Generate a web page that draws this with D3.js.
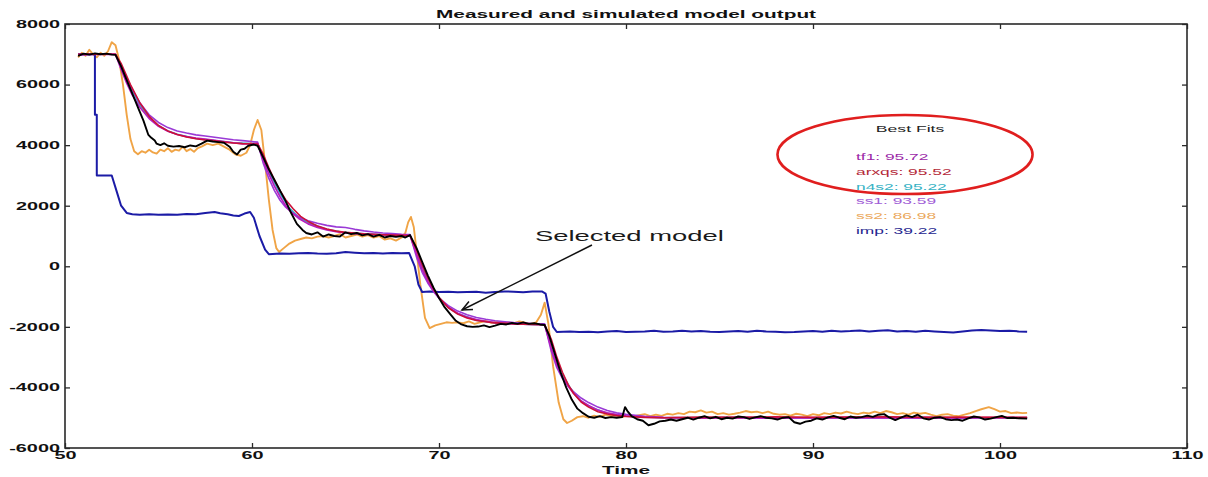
<!DOCTYPE html>
<html>
<head>
<meta charset="utf-8">
<script src="https://cdn.jsdelivr.net/npm/d3@7"></script>
<style>
  html, body { margin: 0; padding: 0; background: #fff; }
  svg { display: block; }
  text { font-family: "Liberation Sans", Arial, Helvetica, sans-serif; }
</style>
</head>
<body>
<svg id="chart" width="1208" height="477"></svg>
<script>
// ---------------- DATA ----------------
const titleText = "Measured and simulated model output";
const xLabel = "Time";
const xTicks = [50, 60, 70, 80, 90, 100, 110];
const yTicks = [-6000, -4000, -2000, 0, 2000, 4000, 6000, 8000];
const legendTitle = "Best Fits";
const fitNames = ["tf1", "arxqs", "n4s2", "ss1", "ss2", "imp"];
const fitValues = ["95.72", "95.52", "95.22", "93.59", "86.98", "39.22"];
const annotationText = "Selected model";

// measured output [time, value]
const measured = [
 [50.7,6950],[51.0,7020],[51.3,6990],[51.6,7030],[51.9,7000],[52.2,7020],[52.5,6990],[52.7,6980],
 [53.0,6600],[53.3,6150],[53.6,5700],[53.9,5250],[54.2,4800],[54.45,4350],[54.6,4250],[54.8,4150],[54.9,4050],
 [55.1,4000],[55.3,4060],[55.5,3980],[55.8,3950],[56.1,3970],[56.4,3930],[56.7,3990],[57.0,3960],[57.3,4050],
 [57.6,4150],[57.9,4120],[58.2,4100],[58.5,4080],[58.8,3950],[59.0,3780],[59.2,3690],[59.4,3850],[59.6,3880],
 [59.8,3980],[60.1,4020],[60.3,3980],
 [60.6,3600],[60.9,3200],[61.2,2850],[61.5,2500],[61.8,2150],[62.1,1750],[62.4,1400],[62.7,1200],[62.9,1100],
 [63.2,1050],[63.5,1120],[63.8,980],[64.1,1050],[64.4,1000],[64.7,980],[65.0,1120],[65.3,1060],[65.6,1100],
 [65.9,1020],[66.2,1060],[66.5,980],[66.8,1040],[67.1,950],[67.4,1000],[67.7,970],[68.0,1000],[68.2,950],[68.45,1030],
 [68.8,600],[69.1,150],[69.4,-300],[69.7,-700],[70.0,-1050],[70.3,-1350],[70.6,-1580],[70.9,-1800],[71.2,-1920],
 [71.5,-1980],[71.8,-2000],[72.1,-1990],[72.4,-1950],[72.7,-2010],[73.0,-1960],[73.3,-1900],[73.6,-1920],
 [73.9,-1870],[74.2,-1900],[74.5,-1850],[74.8,-1900],[75.1,-1880],[75.4,-1920],[75.65,-1940],
 [75.9,-2300],[76.2,-2900],[76.5,-3500],[76.8,-4000],[77.1,-4400],[77.4,-4700],[77.7,-4850],[78.0,-4970],
 [78.3,-5000],[78.6,-4950],[78.9,-5010],[79.2,-4980],[79.5,-5000],[79.8,-4980],[79.95,-4650],[80.1,-4800],
 [80.3,-4950],[80.6,-5050],[80.9,-5100],[81.2,-5250],[81.5,-5200],[81.8,-5120],[82.1,-5100],[82.4,-5060],
 [82.7,-5100],[83.0,-5050],[83.3,-5000],[83.6,-5060],[83.9,-5000],[84.2,-4950],[84.5,-5020],[84.8,-4970],
 [85.1,-5050],[85.4,-5000],[85.7,-5030],[86.0,-4960],[86.3,-4980],[86.6,-5040],[86.9,-4990],[87.2,-4950],
 [87.5,-5000],[87.8,-5020],[88.1,-5060],[88.4,-5000],[88.7,-4980],[89.0,-5150],[89.3,-5200],[89.6,-5130],
 [89.9,-5100],[90.2,-5020],[90.5,-5060],[90.8,-4990],[91.1,-4940],[91.4,-5000],[91.7,-5050],[92.0,-4960],
 [92.3,-5000],[92.6,-4980],[92.9,-4930],[93.2,-4970],[93.5,-4900],[93.8,-4880],[94.1,-5000],[94.4,-5080],
 [94.7,-5000],[95.0,-4920],[95.3,-4980],[95.6,-4900],[95.9,-5020],[96.2,-5060],[96.5,-5000],[96.8,-4980],
 [97.1,-5050],[97.4,-5080],[97.7,-5060],[98.0,-5100],[98.3,-5020],[98.6,-4960],[98.9,-4990],[99.2,-5060],
 [99.5,-5030],[99.8,-4980],[100.1,-4940],[100.4,-5010],[100.7,-5000],[101.0,-5020],[101.45,-5030]
];

const tf1 = [
 [50.7,6980],[51.5,7000],[52.7,7000],[53.0,6500],[53.3,6050],[53.6,5650],[54.0,5250],[54.5,4880],[55.0,4620],
 [55.5,4460],[56.0,4350],[56.5,4280],[57.0,4230],[57.5,4200],[58.0,4160],[58.5,4120],[59.0,4080],[59.5,4040],
 [60.0,4050],[60.3,4060],
 [60.6,3500],[60.9,3050],[61.2,2650],[61.5,2300],[61.8,2000],[62.1,1780],[62.5,1580],[63.0,1400],[63.5,1280],
 [64.0,1200],[64.5,1140],[65.0,1100],[65.5,1080],[66.0,1060],[67.0,1040],[68.0,1020],[68.45,1020],
 [68.8,400],[69.1,-100],[69.4,-500],[69.7,-800],[70.0,-1050],[70.5,-1350],[71.0,-1550],[71.5,-1680],[72.0,-1760],
 [72.5,-1820],[73.0,-1860],[74.0,-1900],[75.0,-1920],[75.65,-1930],
 [76.0,-2700],[76.3,-3250],[76.6,-3650],[76.9,-3950],[77.2,-4200],[77.6,-4450],[78.0,-4600],[78.5,-4750],
 [79.0,-4840],[79.5,-4900],[80.0,-4940],[81.0,-4980],[82.0,-5000],[84.0,-5010],[86.0,-4990],[88.0,-5010],
 [90.0,-5000],[92.0,-4990],[94.0,-5010],[96.0,-4990],[98.0,-5010],[100.0,-4990],[101.45,-5000]
];

const arxqs = [
 [50.7,7000],[51.5,7010],[52.7,7000],[53.0,6700],[53.5,6000],[54.0,5400],[54.5,4950],[55.0,4650],[55.5,4470],
 [56.0,4350],[56.5,4270],[57.0,4210],[57.5,4170],[58.0,4140],[58.5,4100],[59.0,4070],[59.5,4050],[60.0,4040],[60.3,4040],
 [60.6,3700],[60.9,3250],[61.2,2850],[61.5,2500],[61.8,2200],[62.2,1900],[62.6,1650],[63.0,1480],[63.5,1330],
 [64.0,1230],[64.5,1160],[65.0,1120],[66.0,1070],[67.0,1040],[68.0,1020],[68.45,1010],
 [68.8,550],[69.1,50],[69.4,-380],[69.7,-740],[70.0,-1020],[70.5,-1370],[71.0,-1580],[71.5,-1710],[72.0,-1790],
 [73.0,-1870],[74.0,-1900],[75.0,-1920],[75.65,-1930],
 [76.0,-2400],[76.3,-3000],[76.6,-3500],[76.9,-3900],[77.2,-4200],[77.6,-4480],[78.0,-4650],[78.5,-4800],
 [79.0,-4880],[79.5,-4930],[80.0,-4960],[81.0,-4990],[82.0,-5000],[84.0,-4980],[86.0,-4990],[88.0,-4970],
 [90.0,-4990],[92.0,-4980],[94.0,-4970],[96.0,-4990],[98.0,-4980],[100.0,-4990],[101.45,-4990]
];

const n4s2 = [
 [50.7,6990],[51.5,7000],[52.7,7000],[53.0,6600],[53.5,5900],[54.0,5330],[54.5,4920],[55.0,4640],[55.5,4470],
 [56.0,4360],[57.0,4220],[58.0,4150],[59.0,4080],[60.0,4050],[60.3,4050],
 [60.6,3600],[61.0,3000],[61.5,2400],[62.0,1920],[62.5,1620],[63.0,1440],[64.0,1220],[65.0,1110],[66.0,1070],
 [67.0,1040],[68.0,1020],[68.45,1020],
 [68.8,480],[69.2,-150],[69.6,-650],[70.0,-1030],[70.5,-1360],[71.0,-1560],[72.0,-1780],[73.0,-1870],
 [74.0,-1900],[75.0,-1920],[75.65,-1930],
 [76.0,-2550],[76.5,-3450],[77.0,-4000],[77.5,-4400],[78.0,-4620],[79.0,-4860],[80.0,-4950],[82.0,-5000],
 [86.0,-4990],[90.0,-5000],[94.0,-4990],[98.0,-5000],[101.45,-5000]
];

const ss1 = [
 [50.7,7000],[51.5,7000],[52.7,7000],[53.0,6600],[53.5,5950],[54.0,5400],[54.5,5000],[55.0,4750],[55.5,4580],
 [56.0,4470],[56.5,4400],[57.0,4340],[57.5,4300],[58.0,4260],[58.5,4220],[59.0,4180],[59.5,4150],[60.0,4120],[60.3,4100],
 [60.6,3400],[60.9,2900],[61.2,2500],[61.5,2180],[61.8,1950],[62.2,1750],[62.6,1600],[63.0,1500],[63.5,1420],
 [64.0,1350],[64.5,1300],[65.0,1280],[65.5,1220],[66.0,1170],[66.5,1130],[67.0,1100],[67.5,1080],[68.0,1060],[68.45,1050],
 [68.8,300],[69.1,-200],[69.4,-550],[69.7,-830],[70.0,-1050],[70.5,-1300],[71.0,-1480],[71.5,-1600],[72.0,-1690],
 [72.5,-1750],[73.0,-1800],[74.0,-1860],[75.0,-1890],[75.65,-1900],
 [76.0,-2800],[76.3,-3350],[76.6,-3700],[76.9,-3950],[77.2,-4150],[77.6,-4350],[78.0,-4500],[78.5,-4650],
 [79.0,-4760],[79.5,-4840],[80.0,-4890],[81.0,-4950],[82.0,-4990],[84.0,-5010],[86.0,-5000],[88.0,-5020],
 [90.0,-5000],[92.0,-5010],[94.0,-5000],[96.0,-5020],[98.0,-5010],[100.0,-5000],[101.45,-5010]
];

const ss2 = [
 [50.7,6900],[50.9,7050],[51.1,6950],[51.3,7150],[51.5,7000],[51.7,6900],[51.9,7050],[52.1,6950],[52.3,7100],
 [52.5,7400],[52.7,7300],[52.9,6800],[53.1,6000],[53.3,5000],[53.5,4200],[53.7,3800],[53.9,3700],[54.1,3800],
 [54.3,3750],[54.5,3850],[54.7,3760],[54.9,3720],[55.1,3850],[55.3,3800],[55.5,3900],[55.7,3780],[55.9,3850],
 [56.1,3820],[56.3,3950],[56.5,3800],[56.7,3870],[56.9,3780],[57.1,3900],[57.3,3950],[57.6,4050],[57.9,4000],
 [58.2,4050],[58.5,3950],[58.8,3850],[59.1,3700],[59.4,3650],[59.7,3750],[59.9,4000],[60.1,4500],[60.3,4830],
 [60.5,4500],[60.7,3400],[60.9,2200],[61.1,1200],[61.3,600],[61.45,470],[61.7,600],[62.0,750],[62.3,850],
 [62.6,900],[62.9,950],[63.2,920],[63.5,980],[63.8,1000],[64.1,950],[64.4,1000],[64.7,1060],[65.0,950],
 [65.3,1000],[65.6,1050],[65.9,980],[66.2,1030],[66.5,950],[66.8,1000],[67.1,880],[67.4,920],[67.7,850],
 [68.0,950],[68.2,1100],[68.35,1450],[68.5,1630],[68.65,1300],[68.8,500],[69.0,-600],[69.25,-1700],[69.5,-2040],
 [69.8,-1950],[70.1,-1900],[70.4,-1850],[70.7,-1870],[71.0,-1850],[71.3,-1880],[71.6,-1820],[71.9,-1900],
 [72.2,-1850],[72.5,-1800],[72.8,-1870],[73.1,-1830],[73.4,-1900],[73.7,-1850],[74.0,-1880],[74.3,-1820],
 [74.6,-1860],[74.9,-1900],[75.2,-1850],[75.45,-1600],[75.65,-1200],[75.85,-1900],[76.1,-3300],[76.4,-4500],
 [76.65,-5050],[76.85,-5175],[77.1,-5100],[77.4,-4980],[77.7,-4950],[78.0,-5000],[78.3,-4930],[78.6,-4970],
 [78.9,-4900],[79.2,-4950],[79.5,-4920],[79.8,-4980],[80.1,-4900],[80.4,-4960],[80.7,-4920],[81.0,-4880],
 [81.3,-4950],[81.6,-4900],[81.9,-4940],[82.2,-4870],[82.5,-4900],[82.8,-4850],[83.1,-4880],[83.4,-4800],
 [83.7,-4820],[84.0,-4760],[84.3,-4830],[84.6,-4800],[84.9,-4880],[85.2,-4850],[85.5,-4900],[85.8,-4870],
 [86.1,-4830],[86.4,-4780],[86.7,-4820],[87.0,-4800],[87.3,-4850],[87.6,-4800],[87.9,-4870],[88.2,-4900],
 [88.5,-4880],[88.8,-4930],[89.1,-4870],[89.4,-4900],[89.7,-4950],[90.0,-4880],[90.3,-4920],[90.6,-4850],
 [90.9,-4880],[91.2,-4830],[91.5,-4860],[91.8,-4800],[92.1,-4850],[92.4,-4880],[92.7,-4830],[93.0,-4860],
 [93.3,-4800],[93.6,-4850],[93.9,-4780],[94.2,-4820],[94.5,-4880],[94.8,-4850],[95.1,-4900],[95.4,-4830],
 [95.7,-4870],[96.0,-4840],[96.3,-4900],[96.6,-4950],[96.9,-4900],[97.2,-4880],[97.5,-4930],[97.8,-4950],
 [98.1,-4900],[98.4,-4850],[98.7,-4780],[99.0,-4720],[99.4,-4650],[99.7,-4720],[100.0,-4800],[100.3,-4780],
 [100.6,-4850],[100.9,-4830],[101.2,-4850],[101.45,-4840]
];

const imp = [
 [50.7,7000],[51.6,7000],[51.6,5000],[51.7,5000],[51.7,3000],[52.5,3000],[52.8,2400],[53.0,2000],[53.3,1760],
 [53.6,1720],[54.0,1700],[54.5,1720],[55.0,1700],[55.5,1710],[56.0,1700],[56.5,1730],[57.0,1720],[57.5,1760],
 [58.0,1790],[58.3,1750],[58.7,1720],[59.0,1680],[59.3,1660],[59.6,1740],[59.9,1790],[60.1,1600],[60.4,1000],
 [60.7,550],[60.9,400],[61.5,420],[62.0,410],[62.5,430],[63.0,440],[63.5,420],[64.0,410],[64.5,430],[65.0,470],
 [65.5,450],[66.0,430],[66.5,440],[67.0,420],[67.5,440],[68.0,430],[68.4,440],[68.7,0],[68.9,-600],[69.1,-850],
 [69.5,-830],[70.0,-850],[70.5,-840],[71.0,-860],[71.5,-850],[72.0,-840],[72.5,-870],[73.0,-850],[73.5,-830],
 [74.0,-840],[74.5,-860],[75.0,-830],[75.5,-830],[75.7,-900],[75.9,-1500],[76.1,-2000],[76.3,-2170],[77.0,-2150],
 [77.5,-2170],[78.0,-2160],[78.5,-2180],[79.0,-2150],[79.5,-2140],[80.0,-2170],[80.5,-2160],[81.0,-2150],
 [81.5,-2130],[82.0,-2160],[82.5,-2150],[83.0,-2130],[83.5,-2150],[84.0,-2140],[84.5,-2160],[85.0,-2170],
 [85.5,-2150],[86.0,-2140],[86.5,-2160],[87.0,-2130],[87.5,-2150],[88.0,-2160],[88.5,-2180],[89.0,-2170],
 [89.5,-2150],[90.0,-2140],[90.5,-2160],[91.0,-2130],[91.5,-2150],[92.0,-2140],[92.5,-2120],[93.0,-2150],
 [93.5,-2130],[94.0,-2110],[94.5,-2150],[95.0,-2140],[95.5,-2160],[96.0,-2130],[96.5,-2150],[97.0,-2170],
 [97.5,-2190],[98.0,-2150],[98.5,-2120],[99.0,-2100],[99.5,-2120],[100.0,-2140],[100.5,-2130],[101.0,-2150],
 [101.45,-2160]
];

// ---------------- STYLE / LAYOUT ----------------
const W = 1208, H = 477;
const plot = { left: 65, right: 1187, top: 24, bottom: 448 };
const STRETCH = 1.89; // reference image is horizontally stretched
const colors = {
  measured: "#000000", tf1: "#b81cbc", arxqs: "#cc1038", n4s2: "#2fb4c8",
  ss1: "#9a3ad6", ss2: "#f0a446", imp: "#1b1ba6"
};
const legendColors = ["#9c2aa8", "#b42838", "#35b2c4", "#a05cd6", "#eba85c", "#25258f"];

const svg = d3.select("#chart");
const x = d3.scaleLinear().domain([50, 110]).range([plot.left, plot.right]);
const y = d3.scaleLinear().domain([-6000, 8000]).range([plot.bottom, plot.top]);

function stretch(sel, k) {
  sel.each(function () {
    const w = this.getComputedTextLength();
    this.setAttribute("textLength", (w * k).toFixed(1));
    this.setAttribute("lengthAdjust", "spacingAndGlyphs");
  });
}

// ---------------- LINES ----------------
const line = d3.line().x(d => x(d[0])).y(d => y(d[1]));
const g = svg.append("g");
const series = [
  { d: n4s2, c: colors.n4s2, w: 1.6 },
  { d: ss2, c: colors.ss2, w: 1.9 },
  { d: imp, c: colors.imp, w: 2.0 },
  { d: ss1, c: colors.ss1, w: 1.6 },
  { d: tf1, c: colors.tf1, w: 1.7 },
  { d: arxqs, c: colors.arxqs, w: 1.6 },
  { d: measured, c: colors.measured, w: 1.9 }
];
g.selectAll("path.series").data(series).join("path")
  .attr("class", "series")
  .attr("d", s => line(s.d))
  .attr("fill", "none")
  .attr("stroke", s => s.c)
  .attr("stroke-width", s => s.w)
  .attr("stroke-linejoin", "round");

// ---------------- AXES ----------------
const axisColor = "#2a2a2a";
const gx = svg.append("g").attr("transform", `translate(0,${plot.bottom})`)
  .call(d3.axisBottom(x).tickValues(xTicks).tickSize(-5).tickPadding(4).tickFormat(d3.format("d")));
const gxt = svg.append("g").attr("transform", `translate(0,${plot.top})`)
  .call(d3.axisTop(x).tickValues(xTicks).tickSize(-5).tickFormat(""));
const gy = svg.append("g").attr("transform", `translate(${plot.left},0)`)
  .call(d3.axisLeft(y).tickValues(yTicks).tickSize(-5).tickPadding(5).tickFormat(d => d < 0 ? "-" + Math.abs(d) : String(d)));
const gyr = svg.append("g").attr("transform", `translate(${plot.right},0)`)
  .call(d3.axisRight(y).tickValues(yTicks).tickSize(-5).tickFormat(""));

[gx, gxt, gy, gyr].forEach(a => {
  a.select(".domain").remove();
  a.selectAll(".tick line").attr("stroke", axisColor).attr("stroke-width", 1.3);
  a.selectAll("text").attr("font-family", "Liberation Sans, Arial, sans-serif")
    .attr("font-size", "10.5px").attr("font-weight", "bold").attr("fill", "#111");
});
stretch(gx.selectAll("text"), STRETCH);
stretch(gy.selectAll("text"), STRETCH);

svg.append("rect")
  .attr("x", plot.left).attr("y", plot.top)
  .attr("width", plot.right - plot.left).attr("height", plot.bottom - plot.top)
  .attr("fill", "none").attr("stroke", axisColor).attr("stroke-width", 1.6);

// ---------------- TITLES ----------------
const title = svg.append("text")
  .attr("x", (plot.left + plot.right) / 2).attr("y", 18)
  .attr("text-anchor", "middle").attr("font-size", "11px").attr("font-weight", "bold")
  .attr("fill", "#111").text(titleText);
stretch(title, STRETCH);

const xl = svg.append("text")
  .attr("x", (plot.left + plot.right) / 2).attr("y", 474)
  .attr("text-anchor", "middle").attr("font-size", "11px").attr("font-weight", "bold")
  .attr("fill", "#111").text(xLabel);
stretch(xl, STRETCH);

// ---------------- LEGEND (Best Fits) ----------------
const legendPos = { headT: 95.19, headV: 4434, itemT: 92.3, itemV: 3509, step: 14.8 };
const lg = svg.append("g");
const lt = lg.append("text")
  .attr("x", x(legendPos.headT)).attr("y", y(legendPos.headV))
  .attr("text-anchor", "middle").attr("font-size", "9.3px").attr("fill", "#222")
  .text(legendTitle);
stretch(lt, STRETCH);
const items = lg.selectAll("text.item").data(fitNames).join("text")
  .attr("class", "item")
  .attr("x", x(legendPos.itemT))
  .attr("y", (d, i) => y(legendPos.itemV) + i * legendPos.step)
  .attr("font-size", "9.2px")
  .attr("fill", (d, i) => legendColors[i])
  .text((d, i) => `${d}: ${fitValues[i]}`);
stretch(items, STRETCH);

// red ellipse around top three
const ell = { t: 94.92, v: 3690, rt: 6.82, rv: 1304 };
svg.append("ellipse")
  .attr("cx", x(ell.t)).attr("cy", y(ell.v))
  .attr("rx", x(ell.t + ell.rt) - x(ell.t))
  .attr("ry", y(ell.v - ell.rv) - y(ell.v))
  .attr("fill", "none").attr("stroke", "#e01e1e").attr("stroke-width", 2.6);

// ---------------- ANNOTATION ----------------
const ann = svg.append("text")
  .attr("x", x(75.13)).attr("y", y(834))
  .attr("font-size", "14.5px").attr("fill", "#1a1a1a")
  .text(annotationText);
stretch(ann, STRETCH);

const a0 = [x(78.18), y(702)], a1 = [x(71.23), y(-1444)];
svg.append("line")
  .attr("x1", a0[0]).attr("y1", a0[1]).attr("x2", a1[0]).attr("y2", a1[1])
  .attr("stroke", "#111").attr("stroke-width", 1.5);
const ang = Math.atan2(a1[1] - a0[1], a1[0] - a0[0]);
const hl = 11, ha = 0.42;
const head = [
  [a1[0] - hl * Math.cos(ang - ha), a1[1] - hl * Math.sin(ang - ha)],
  a1,
  [a1[0] - hl * Math.cos(ang + ha), a1[1] - hl * Math.sin(ang + ha)]
];
svg.append("path").attr("d", d3.line()(head))
  .attr("fill", "none").attr("stroke", "#111").attr("stroke-width", 1.5);
</script>
</body>
</html>
